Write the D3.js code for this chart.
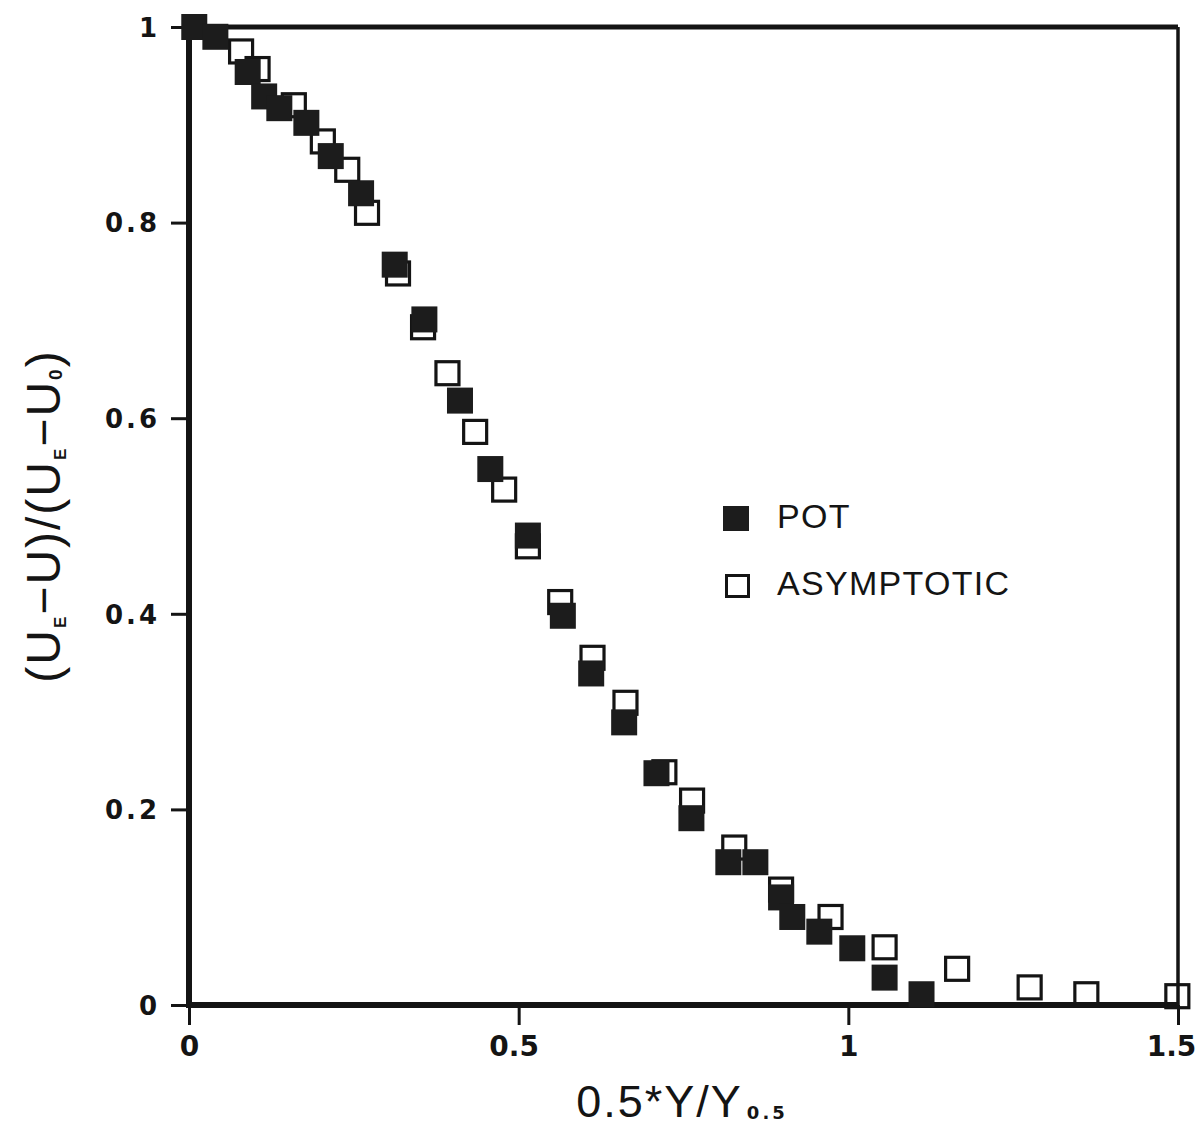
<!DOCTYPE html>
<html><head><meta charset="utf-8">
<script src="https://cdn.jsdelivr.net/npm/d3@7"></script>
<style>body{margin:0;background:#fff}</style>
</head><body>
<svg id="c" width="1199" height="1138"></svg>
<script>
const potX = [0.008,0.040,0.089,0.114,0.137,0.178,0.215,0.261,0.312,0.357,0.411,0.457,0.514,0.567,0.610,0.660,0.709,0.762,0.818,0.859,0.898,0.915,0.956,1.006,1.055,1.111];
const potY = [1.0,0.99,0.954,0.929,0.917,0.902,0.868,0.830,0.757,0.701,0.618,0.548,0.480,0.398,0.339,0.289,0.237,0.191,0.146,0.146,0.110,0.090,0.075,0.058,0.028,0.011];
const asyX = [0.079,0.104,0.159,0.203,0.240,0.270,0.317,0.355,0.392,0.434,0.478,0.514,0.563,0.612,0.662,0.721,0.763,0.827,0.898,0.973,1.055,1.165,1.275,1.361,1.499];
const asyY = [0.975,0.957,0.920,0.883,0.854,0.810,0.748,0.693,0.646,0.586,0.527,0.469,0.412,0.355,0.309,0.238,0.209,0.161,0.118,0.090,0.059,0.037,0.018,0.011,0.009];
const xTicks = [0, 0.5, 1, 1.5];
const xTickLabels = ["0", "0.5", "1", "1.5"];
const yTicks = [0, 0.2, 0.4, 0.6, 0.8, 1];
const yTickLabels = ["0", "0.2", "0.4", "0.6", "0.8", "1"];
const legendLabels = ["POT", "ASYMPTOTIC"];

const svg = d3.select("#c");
const L = 189, T = 27, R = 1178, B = 1005;
const x = d3.scaleLinear().domain([0, 1.5]).range([L, R]);
const y = d3.scaleLinear().domain([0, 1]).range([B, T]);
const ink = "#141414";
const S = 26;

// axes
const xAxis = d3.axisBottom(x).tickValues(xTicks).tickFormat((d,i)=>xTickLabels[i]).tickSize(20).tickPadding(11);
const gx = svg.append("g").attr("transform", `translate(0,${B})`).call(xAxis);
gx.select(".domain").remove();
gx.selectAll(".tick line").attr("stroke", ink).attr("stroke-width", 3);
gx.selectAll(".tick text").attr("fill", ink).style("font-family", "'DejaVu Sans',sans-serif")
  .style("font-weight", "bold").style("font-size", "28px")
  .attr("dx", (d,i)=> i === xTicks.length-1 ? -7 : (i === 1 ? -5 : 0));

const yAxis = d3.axisLeft(y).tickValues(yTicks).tickFormat((d,i)=>yTickLabels[i]).tickSize(18).tickPadding(11);
const gy = svg.append("g").attr("transform", `translate(${L},0)`).call(yAxis);
gy.select(".domain").remove();
gy.selectAll(".tick line").attr("stroke", ink).attr("stroke-width", 3);
gy.selectAll(".tick text").attr("fill", ink).attr("dy", "0.36em").style("font-family", "'DejaVu Sans',sans-serif")
  .style("font-weight", "bold").style("font-size", "26px").style("letter-spacing", "3px");

// frame
svg.append("line").attr("x1", L).attr("x2", L).attr("y1", T-3).attr("y2", B+3).attr("stroke", ink).attr("stroke-width", 6);
svg.append("line").attr("x1", L).attr("x2", R).attr("y1", B).attr("y2", B).attr("stroke", ink).attr("stroke-width", 6);
svg.append("line").attr("x1", L).attr("x2", R).attr("y1", T).attr("y2", T).attr("stroke", ink).attr("stroke-width", 5);
svg.append("line").attr("x1", R).attr("x2", R).attr("y1", T).attr("y2", B).attr("stroke", ink).attr("stroke-width", 3.5);

// data: open first, then filled
svg.append("g").selectAll("rect").data(asyX.map((v,i)=>[v, asyY[i]])).join("rect")
  .attr("x", d=>x(d[0])-S/2+1.5).attr("y", d=>y(d[1])-S/2+1.5).attr("width", S-3).attr("height", S-3)
  .attr("fill", "none").attr("stroke", ink).attr("stroke-width", 3.2);
svg.append("g").selectAll("rect").data(potX.map((v,i)=>[v, potY[i]])).join("rect")
  .attr("x", d=>x(d[0])-S/2).attr("y", d=>y(d[1])-S/2).attr("width", S).attr("height", S)
  .attr("fill", "#1c1c1c");

// legend
const lg = svg.append("g");
lg.append("rect").attr("x", 723).attr("y", 506).attr("width", 26).attr("height", 25).attr("fill", "#1c1c1c");
lg.append("rect").attr("x", 726.5).attr("y", 575.5).attr("width", 22).attr("height", 21).attr("fill", "none").attr("stroke", ink).attr("stroke-width", 3);
lg.selectAll("text").data(legendLabels).join("text")
  .attr("x", 777).attr("y", (d,i)=>528 + i*67)
  .attr("fill", ink).style("font-family", "'Liberation Sans',Arial,sans-serif").style("font-size", "34px")
  .style("letter-spacing", "1.3px")
  .text(d=>d);

// x title
const xt = svg.append("text").attr("x", 682).attr("y", 1117).attr("text-anchor", "middle").attr("fill", ink)
  .style("font-family", "'Liberation Sans',Arial,sans-serif").style("font-size", "45px").style("letter-spacing", "2px");
xt.append("tspan").text("0.5*Y/Y");
xt.append("tspan").attr("dx", 4).attr("dy", 2).style("font-size", "18px").style("font-weight", "bold")
  .style("font-family", "'DejaVu Sans',sans-serif").style("letter-spacing", "3px").text("0.5");

// y title
const yt = svg.append("text").attr("transform", "translate(60,516) rotate(-90)").attr("text-anchor", "middle").attr("fill", ink)
  .style("font-family", "'Liberation Sans',Arial,sans-serif").style("font-size", "48px").style("letter-spacing", "2px");
yt.append("tspan").text("(U");
yt.append("tspan").attr("dy", 6).style("font-size", "17px").style("font-weight", "bold").text("E");
yt.append("tspan").attr("dy", -6).text("\u2212U)/(U");
yt.append("tspan").attr("dy", 6).style("font-size", "17px").style("font-weight", "bold").text("E");
yt.append("tspan").attr("dy", -6).text("\u2212U");
yt.append("tspan").attr("dy", 2).style("font-size", "19px").style("font-weight", "bold").text("0");
yt.append("tspan").attr("dy", -2).text(")");
</script>
</body></html>
